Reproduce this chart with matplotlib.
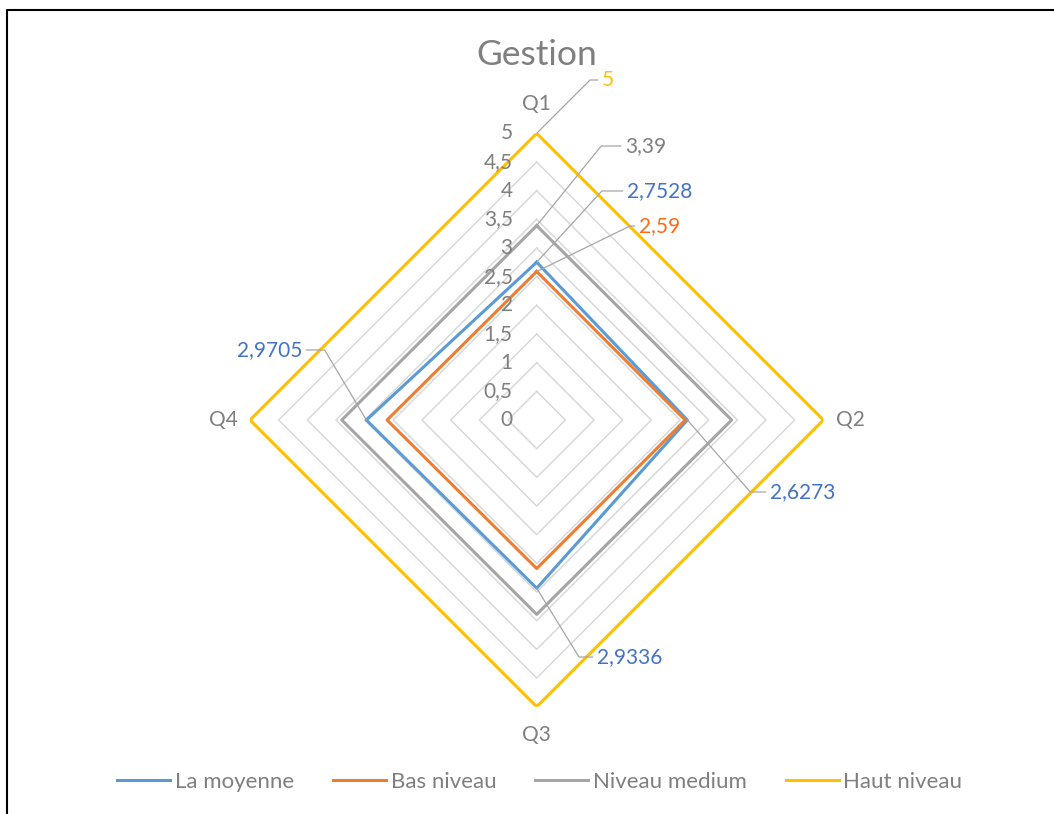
import numpy as np
import matplotlib.pyplot as plt
from matplotlib.lines import Line2D

plt.rcParams['font.family'] = ['Lato', 'DejaVu Sans']

# data
categories = ['Q1', 'Q2', 'Q3', 'Q4']
series_names = ['La moyenne', 'Bas niveau', 'Niveau medium', 'Haut niveau']
la_moyenne = [2.7528, 2.6273, 2.9336, 2.9705]
bas_niveau = [2.59, 2.59, 2.59, 2.61]
niveau_medium = [3.39, 3.40, 3.39, 3.40]
haut_niveau = [5, 5, 5, 5]
radial_ticks = [0, 0.5, 1, 1.5, 2, 2.5, 3, 3.5, 4, 4.5, 5]

colors = ['#5B9BD5', '#ED7D31', '#A5A5A5', '#FFC000']
text_gray = '#7F7F7F'
W, H = 1054, 814

fig = plt.figure(figsize=(W / 100, H / 100), dpi=100)
ax = fig.add_axes([0.2372, 0.1318, 0.544, 0.7044], projection='polar')
ax.set_theta_offset(np.pi / 2)
ax.set_theta_direction(-1)
ax.set_ylim(0, 5)
ax.grid(False)
ax.spines['polar'].set_visible(False)
ax.set_xticks([])
ax.set_yticks([])

theta = np.arange(len(categories)) * 2 * np.pi / len(categories)
theta_c = np.append(theta, theta[0])

# polygon grid
for r in radial_ticks[1:]:
    ax.plot(theta_c, [r] * len(theta_c), color='#D9D9D9', lw=1.1, zorder=1)

all_series = [la_moyenne, bas_niveau, niveau_medium, haut_niveau]
for vals, name, c in zip(all_series, series_names, colors):
    ax.plot(theta_c, vals + vals[:1], color=c, lw=2.2, label=name, zorder=3)

# radial tick labels along Q1 axis
for r in radial_ticks:
    ax.annotate(f"{r:g}".replace('.', ','), xy=(0, r), xytext=(-24, 0),
                textcoords='offset pixels', ha='right', va='center',
                fontsize=15, color=text_gray)

# category labels
cat_offsets = [(0, 29), (27, 0), (0, -28), (-27, 0)]
for t, lab, off in zip(theta, categories, cat_offsets):
    ax.annotate(lab, xy=(t, 5), xytext=off, textcoords='offset pixels',
                ha='center', va='center', fontsize=15, color=text_gray)

# data labels with leader lines: (series, category, text pos px, ha, leader angle, color)
data_labels = [
    (3, 0, (602, 80), 'left', 45, '#FFC000'),
    (2, 0, (625, 146), 'left', 51, text_gray),
    (0, 0, (627, 191), 'left', 47.5, '#4472C4'),
    (1, 0, (639, 226), 'left', 26, '#FF6A13'),
    (0, 1, (770, 492), 'left', -48.8, '#4472C4'),
    (0, 2, (597, 657), 'left', -58.4, '#4472C4'),
    (0, 3, (302, 350), 'right', 120.8, '#4472C4'),
]
for si, ci, (tx, ty), ha, ang, tc in data_labels:
    v = all_series[si][ci]
    ax.annotate(f"{v:g}".replace('.', ','), xy=(theta[ci], v),
                xytext=(tx, H - ty), textcoords='figure pixels',
                ha=ha, va='center', fontsize=15, color=tc, zorder=5,
                arrowprops=dict(arrowstyle='-', color='#A6A6A6', lw=0.9,
                                shrinkA=1, shrinkB=0,
                                connectionstyle=f"angle,angleA=0,angleB={ang},rad=0"))

fig.text(537 / W, 1 - 55 / H, 'Gestion', ha='center', va='center',
         fontsize=25.5, color=text_gray)

fig.legend(loc='center', bbox_to_anchor=(0.512, 0.039), ncol=4, frameon=False,
           fontsize=16, labelcolor=text_gray, handlelength=2.4,
           handletextpad=0.2, columnspacing=1.75)

# chart frame
fig.add_artist(Line2D([7 / W, 7 / W, 1], [0, 1 - 10 / H, 1 - 10 / H],
                      transform=fig.transFigure, color='black', lw=1.5))

fig.savefig('out.png', dpi=100)
